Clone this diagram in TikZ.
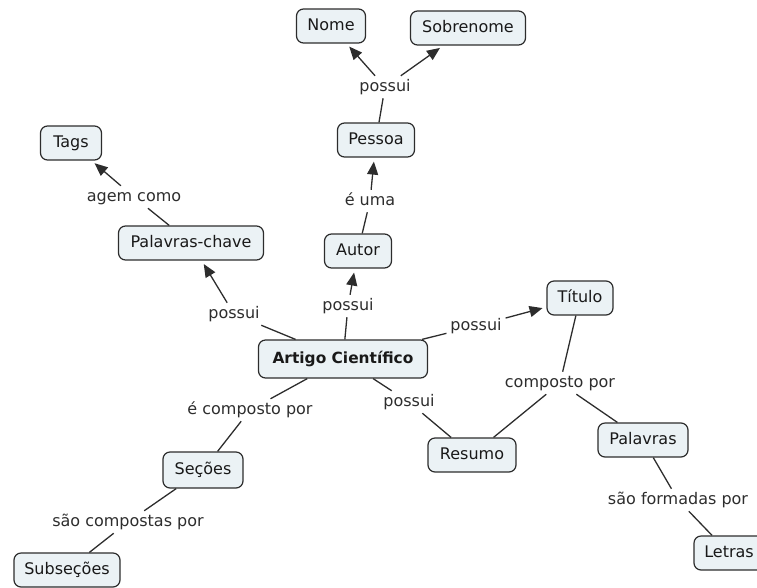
\documentclass[tikz,border=0pt]{standalone}
\usepackage{fontspec}
\setmainfont{DejaVu Sans}
\usetikzlibrary{arrows.meta}
\definecolor{boxfill}{RGB}{235,242,245}
\definecolor{ink}{RGB}{45,45,45}
\tikzset{
  concept/.style={draw=ink, fill=boxfill, line width=1.2pt, rounded corners=7pt,
    minimum height=34pt, inner sep=0pt, text=black!90,
    text height=11.5pt, text depth=3pt,
    font=\fontsize{16}{18}\selectfont},
  linkword/.style={inner sep=1pt, outer sep=3pt, text=ink,
    text height=11.5pt, text depth=3pt,
    font=\fontsize{16}{18}\selectfont},
  link/.style={draw=ink, line width=1.3pt},
  arrowlink/.style={link, -{Triangle[length=13pt,width=11pt]}, shorten >=4pt},
}
\begin{document}
\begin{tikzpicture}[x=1pt,y=-1pt]
\useasboundingbox (0,0) rectangle (757,587);

% concepts and linking phrases
\node[concept, minimum width=69pt]  (nome)      at (331,26)  {Nome};
\node[concept, minimum width=115pt] (sobrenome) at (468,28)  {Sobrenome};
\node[linkword]                     (possuiP)   at (385,87)  {possui};
\node[concept, minimum width=77pt]  (pessoa)    at (376,140) {Pessoa};
\node[linkword]                     (euma)      at (370,201) {é uma};
\node[concept, minimum width=67pt]  (autor)     at (358,251) {Autor};
\node[concept, minimum width=61pt]  (tags)      at (71,143)  {Tags};
\node[linkword]                     (agem)      at (134,197) {agem como};
\node[concept, minimum width=145pt] (chave)     at (191,243) {Palavras-chave};
\node[linkword]                     (possuiK)   at (234,314) {possui};
\node[linkword]                     (possuiA)   at (348,306) {possui};
\node[concept, minimum width=169pt, minimum height=38pt,
      font=\fontsize{15.4}{18}\selectfont\bfseries]
                                    (artigo)    at (343,359) {Artigo Científico};
\node[linkword]                     (possuiT)   at (476,326) {possui};
\node[concept, minimum width=66pt]  (titulo)    at (580,298) {Título};
\node[linkword]                     (composto)  at (560,383) {composto por};
\node[linkword]                     (possuiR)   at (409,402) {possui};
\node[concept, minimum width=88pt]  (resumo)    at (472,455) {Resumo};
\node[concept, minimum width=90pt]  (palavras)  at (643,440) {Palavras};
\node[linkword]                     (formadas)  at (678,500) {são formadas por};
\node[concept, minimum width=70pt]  (letras)    at (729,553) {Letras};
\node[linkword]                     (ecomposto) at (250,410) {é composto por};
\node[concept, minimum width=80pt, minimum height=36pt]
                                    (secoes)    at (203,470) {Seções};
\node[linkword]                     (compostas) at (128,522) {são compostas por};
\node[concept, minimum width=106pt] (subsecoes) at (67,570)  {Subseções};

% connections
\draw[link] (pessoa) -- (possuiP);
\draw[arrowlink] (possuiP) -- (nome);
\draw[arrowlink] (possuiP) -- (sobrenome);
\draw[link] (autor) -- (euma);
\draw[arrowlink] (euma) -- (pessoa);
\draw[link] (chave) -- (agem);
\draw[arrowlink] (agem) -- (tags);
\draw[link] (artigo) -- (possuiK);
\draw[arrowlink] (possuiK) -- (chave);
\draw[link] (artigo) -- (possuiA);
\draw[arrowlink] (possuiA) -- (autor);
\draw[link] (artigo) -- (possuiT);
\draw[arrowlink] (possuiT) -- (titulo);
\draw[link] (titulo) -- (composto);
\draw[link] (composto) -- (resumo);
\draw[link] (composto) -- (palavras);
\draw[link] (artigo) -- (possuiR);
\draw[link] (possuiR) -- (resumo);
\draw[link] (palavras) -- (formadas);
\draw[link] (formadas) -- (letras);
\draw[link] (artigo) -- (ecomposto);
\draw[link] (ecomposto) -- (secoes);
\draw[link] (secoes) -- (compostas);
\draw[link] (compostas) -- (subsecoes);
\end{tikzpicture}
\end{document}
